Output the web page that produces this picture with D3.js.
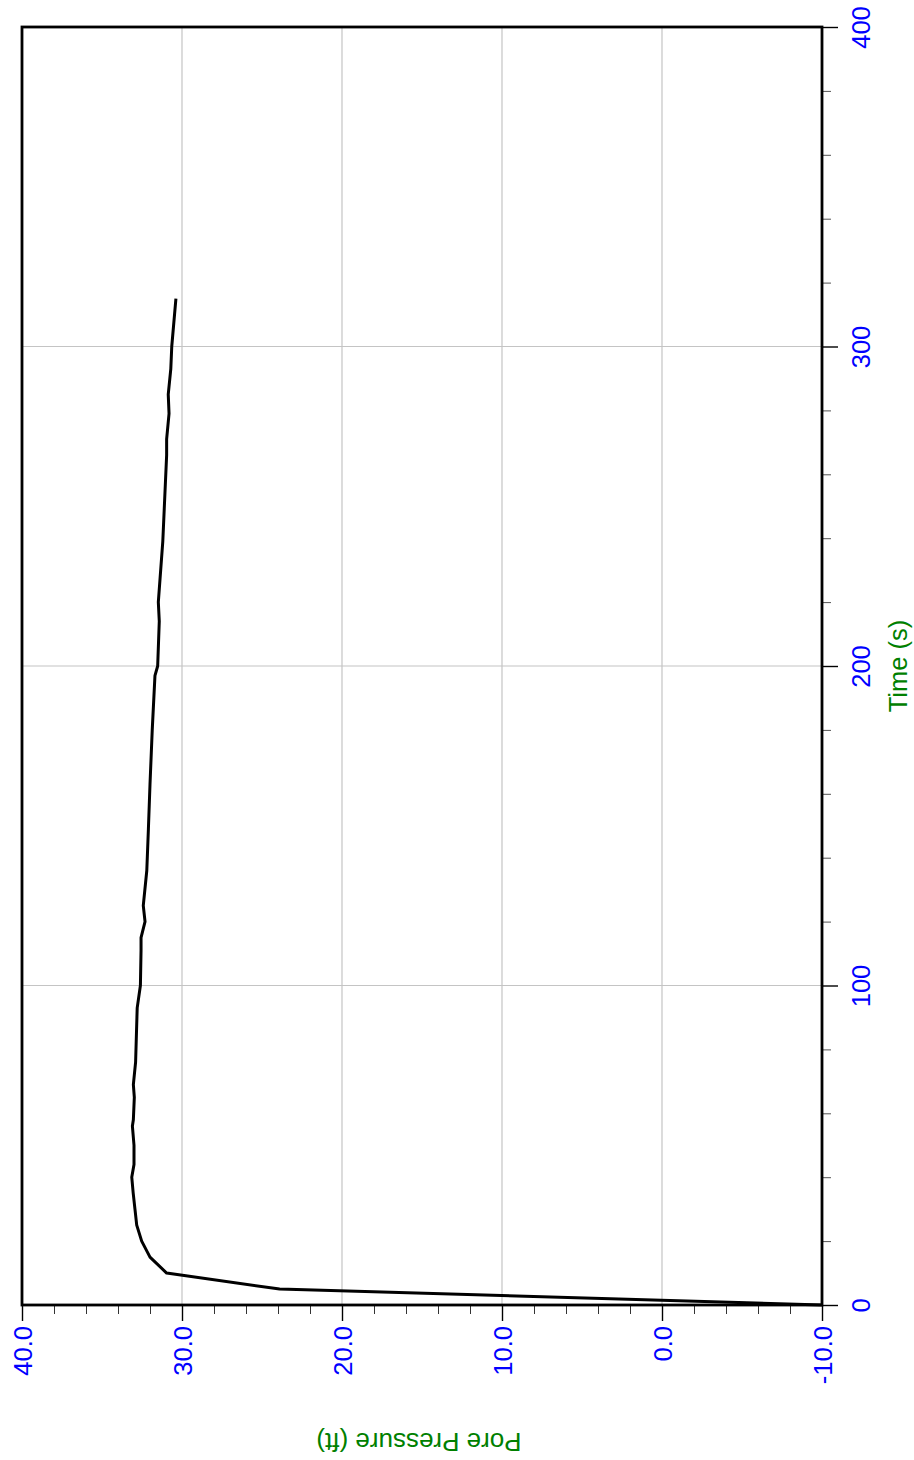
<!DOCTYPE html>
<html>
<head>
<meta charset="utf-8">
<script src="https://cdn.jsdelivr.net/npm/d3@7/dist/d3.min.js"></script>
<style>
  html, body { margin: 0; padding: 0; background: #fff; }
  svg { display: block; font-family: "Liberation Sans", Arial, sans-serif; }
</style>
</head>
<body>
<div id="chart"></div>
<script>
// readings: time (s) vs pore pressure (ft)
const timeS = [0, 5, 10, 15, 20, 25, 30, 35, 40, 44, 50, 56, 58, 65, 69, 76, 93, 100, 111, 115,
               120, 125, 136, 149, 163, 180, 197, 200, 214, 220, 239, 266, 271, 279, 285, 293, 300, 315];
const poreFt = [-10, 23.9, 30.96, 32.0, 32.52, 32.83, 32.94, 33.05, 33.14, 33.0, 33.0, 33.1, 33.04, 32.98, 33.04, 32.9, 32.8, 32.6, 32.56, 32.56,
                32.31, 32.42, 32.2, 32.1, 32.0, 31.86, 31.69, 31.52, 31.42, 31.48, 31.2, 30.96, 30.96, 30.81, 30.86, 30.7, 30.64, 30.38];

const pressureTicks = [40, 30, 20, 10, 0, -10];
const timeTicks = [0, 100, 200, 300, 400];

const W = 914, H = 1460;
const plot = {left: 22, right: 822, top: 27, bottom: 1305};

const svg = d3.select("#chart").append("svg")
  .attr("width", W).attr("height", H);

// pressure runs along the bottom (reversed), time runs up the right side
const x = d3.scaleLinear().domain([40, -10]).range([plot.left, plot.right]);
const y = d3.scaleLinear().domain([0, 400]).range([plot.bottom, plot.top]);

// grid
const grid = svg.append("g").attr("stroke", "#c4c4c4").attr("stroke-width", 1.2);
grid.selectAll("line.v").data(pressureTicks.filter(d => d !== 40 && d !== -10))
  .enter().append("line")
    .attr("x1", d => x(d)).attr("x2", d => x(d))
    .attr("y1", plot.top).attr("y2", plot.bottom);
grid.selectAll("line.h").data(timeTicks.filter(d => d !== 0 && d !== 400))
  .enter().append("line")
    .attr("x1", plot.left).attr("x2", plot.right)
    .attr("y1", d => y(d)).attr("y2", d => y(d));

// minor ticks
const minorP = d3.range(-10, 40, 2).filter(d => d % 10 !== 0);
const minorT = d3.range(0, 400, 20).filter(d => d % 100 !== 0);

svg.append("g")
  .attr("transform", `translate(0,${plot.bottom})`)
  .call(d3.axisBottom(x).tickValues(minorP).tickSize(9).tickFormat(""))
  .call(g => g.select(".domain").remove())
  .call(g => g.selectAll("line").attr("stroke", "#333"));

svg.append("g")
  .attr("transform", `translate(${plot.right},0)`)
  .call(d3.axisRight(y).tickValues(minorT).tickSize(9).tickFormat(""))
  .call(g => g.select(".domain").remove())
  .call(g => g.selectAll("line").attr("stroke", "#555"));

// major ticks + labels
const xAxis = svg.append("g")
  .attr("transform", `translate(0,${plot.bottom})`)
  .call(d3.axisBottom(x).tickValues(pressureTicks).tickSize(16).tickFormat(d => d.toFixed(1)))
  .call(g => g.select(".domain").remove());
xAxis.selectAll("line").attr("stroke", "#000").attr("stroke-width", 1.4);
xAxis.selectAll("text")
  .attr("transform", "rotate(-90)")
  .attr("x", -21).attr("y", 9).attr("dy", 0)
  .attr("text-anchor", "end")
  .attr("fill", "#0000ff")
  .style("font-size", "25.5px")
  .style("font-family", "Liberation Sans, Arial, sans-serif");

const yAxis = svg.append("g")
  .attr("transform", `translate(${plot.right},0)`)
  .call(d3.axisRight(y).tickValues(timeTicks).tickSize(16).tickFormat(d3.format("d")))
  .call(g => g.select(".domain").remove());
yAxis.selectAll("line").attr("stroke", "#000").attr("stroke-width", 1.4);
yAxis.selectAll("text")
  .attr("transform", "rotate(-90)")
  .attr("x", 0).attr("y", 48).attr("dy", 0)
  .attr("text-anchor", "middle")
  .attr("fill", "#0000ff")
  .style("font-size", "25.5px")
  .style("font-family", "Liberation Sans, Arial, sans-serif");

// frame
svg.append("rect")
  .attr("x", plot.left).attr("y", plot.top)
  .attr("width", plot.right - plot.left).attr("height", plot.bottom - plot.top)
  .attr("fill", "none").attr("stroke", "#000").attr("stroke-width", 2.8);

// curve
const pts = timeS.map((t, i) => ({t: t, p: poreFt[i]}));
const line = d3.line().x(d => x(d.p)).y(d => y(d.t));
svg.append("path")
  .datum(pts)
  .attr("d", line)
  .attr("fill", "none")
  .attr("stroke", "#000")
  .attr("stroke-width", 3)
  .attr("stroke-linejoin", "round");

// axis titles
svg.append("text")
  .attr("transform", `translate(${(plot.left + plot.right) / 2 - 3},1433) rotate(180)`)
  .attr("text-anchor", "middle")
  .attr("fill", "#008000")
  .style("font-size", "26px")
  .text("Pore Pressure (ft)");

svg.append("text")
  .attr("transform", `translate(907,${y(200)}) rotate(-90)`)
  .attr("text-anchor", "middle")
  .attr("fill", "#008000")
  .style("font-size", "25.5px")
  .text("Time (s)");
</script>
</body>
</html>
